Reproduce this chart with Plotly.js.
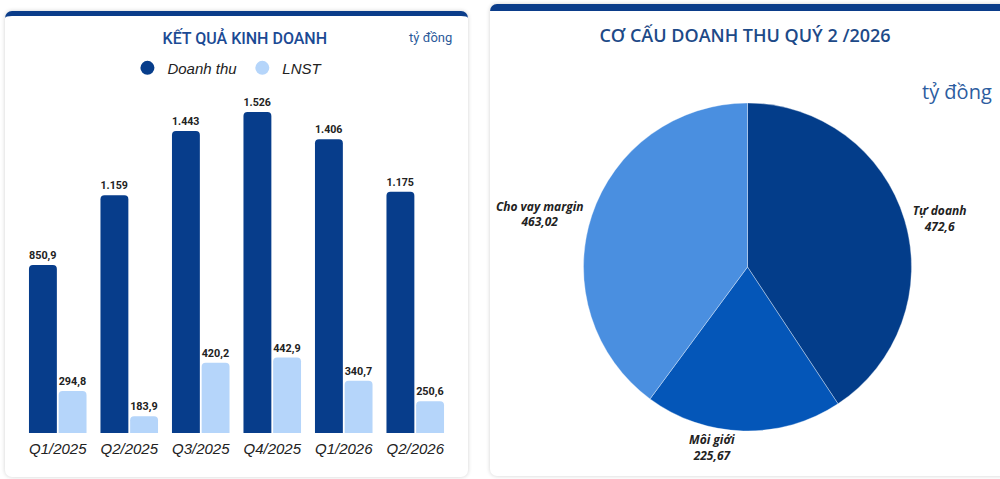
<!DOCTYPE html>
<html>
<head>
<meta charset="utf-8">
<script src="https://cdn.plot.ly/plotly-3.0.1.min.js"></script>
<style>
  html, body { margin:0; padding:0; background:#ffffff; width:1000px; height:479px; overflow:hidden; }
  .card { position:absolute; background:#ffffff; border-radius:7px; box-shadow:0 0 4px rgba(0,0,0,0.18); border-top:5px solid #0b3d8a; box-sizing:border-box; }
  #cardL { left:5px; top:11px; width:463px; height:466px; }
  #cardR { left:490px; top:4px; width:520px; height:472px; border-top-width:7px; }
  #barDiv { position:absolute; left:5px; top:16px; width:463px; height:461px; }
  #pieDiv { position:absolute; left:490px; top:11px; width:510px; height:466px; }
</style>
</head>
<body>
<div class="card" id="cardL"></div>
<div class="card" id="cardR"></div>
<div id="barDiv"></div>
<div id="pieDiv"></div>
<script>
// ---- data ----
const quarters = ["Q1/2025", "Q2/2025", "Q3/2025", "Q4/2025", "Q1/2026", "Q2/2026"];
const revenue = [850.9, 1159, 1443, 1526, 1406, 1175];
const profit = [294.8, 183.9, 420.2, 442.9, 340.7, 250.6];
const seriesNames = ["Doanh thu", "LNST"];

const pieLabels = ["Tự doanh", "Môi giới", "Cho vay margin"];
const pieValues = [472.6, 225.67, 463.02];

const titleBar = "KẾT QUẢ KINH DOANH";
const titlePie = "CƠ CẤU DOANH THU QUÝ 2 /2026";
const unitText = "tỷ đồng";

// ---- formatting (Vietnamese) ----
function fmt(v) {
  if (v >= 1000) {
    return Math.round(v).toString().replace(/\B(?=(\d{3})+(?!\d))/g, ".");
  }
  return v.toFixed(1).replace(".", ",");
}
function fmtPie(v) { return String(v).replace(".", ","); }

const darkBlue = "#073d8b";
const lightBlue = "#b5d5fa";
const labelFont = { family: "Roboto, 'Liberation Sans', sans-serif", size: 11.5, color: "#222222", weight: 700 };

// ---- bar chart ----
const barTraces = [
  {
    type: "bar", x: quarters, y: revenue, name: seriesNames[0], showlegend: false,
    marker: { color: darkBlue, cornerradius: 4 },
    text: revenue.map(fmt), textposition: "outside", textfont: labelFont,
    hoverinfo: "none"
  },
  {
    type: "bar", x: quarters, y: profit, name: seriesNames[1], showlegend: false,
    marker: { color: lightBlue, cornerradius: 4 },
    text: profit.map(fmt), textposition: "outside", textfont: labelFont,
    hoverinfo: "none"
  },
  {
    type: "scatter", mode: "markers", x: [quarters[0]], y: [null], name: seriesNames[0],
    marker: { color: darkBlue, size: 14, symbol: "circle" }, hoverinfo: "none"
  },
  {
    type: "scatter", mode: "markers", x: [quarters[0]], y: [null], name: seriesNames[1],
    marker: { color: lightBlue, size: 14, symbol: "circle" }, hoverinfo: "none"
  }
];

const barLayout = {
  width: 463, height: 461,
  margin: { l: 17, r: 17, t: 75, b: 44, pad: 0 },
  paper_bgcolor: "rgba(0,0,0,0)", plot_bgcolor: "rgba(0,0,0,0)",
  barmode: "group", bargap: 0.17, bargroupgap: 0.06,
  title: {
    text: titleBar, x: 0.518, xref: "container", xanchor: "center",
    y: 0.952, yref: "container", yanchor: "middle",
    font: { family: "Roboto, 'Liberation Sans', sans-serif", size: 16, color: "#1b4a94", weight: 500 }
  },
  xaxis: {
    type: "category", showgrid: false, zeroline: false, showline: false, ticks: "",
    ticklabelstandoff: 5,
    tickfont: { family: "'Liberation Sans', Arial, sans-serif", size: 15, color: "#222222", style: "italic" },
    fixedrange: true
  },
  yaxis: { range: [110, 1619], visible: false, showgrid: false, zeroline: false, fixedrange: true },
  legend: {
    orientation: "h", x: 0.48, xanchor: "center", y: 1.067, yanchor: "middle",
    font: { family: "'Liberation Sans', Arial, sans-serif", size: 15, color: "#222222", style: "italic" },
    itemclick: false, itemdoubleclick: false
  },
  annotations: [{
    text: unitText, xref: "paper", yref: "paper", x: 0.952, y: 1.155,
    xanchor: "center", yanchor: "middle", showarrow: false,
    font: { family: "Roboto, 'Liberation Sans', sans-serif", size: 13, color: "#2b5a9a" }
  }],
  showlegend: true
};

Plotly.newPlot("barDiv", barTraces, barLayout, { staticPlot: true, displayModeBar: false });

// ---- pie chart ----
const pieTrace = {
  type: "pie", labels: pieLabels, values: pieValues,
  text: pieValues.map(fmtPie),
  texttemplate: "%{label}<br>%{text}",
  textposition: "outside", sort: false, direction: "clockwise", rotation: 0,
  marker: { colors: ["#033d8a", "#0456b8", "#4a8fe0"], line: { color: "rgba(255,255,255,0.35)", width: 1 } },
  outsidetextfont: { family: "'Open Sans', 'Noto Sans', sans-serif", size: 12, color: "#222222", weight: 700, style: "italic" },
  domain: { x: [0.1833, 0.8265], y: [0.0987, 0.8026] },
  automargin: false, showlegend: false, hoverinfo: "none"
};

const pieLayout = {
  width: 510, height: 466,
  margin: { l: 0, r: 0, t: 0, b: 0 },
  paper_bgcolor: "rgba(0,0,0,0)",
  title: {
    text: titlePie, x: 0.5, xref: "container", xanchor: "center",
    y: 0.946, yref: "container", yanchor: "middle",
    font: { family: "'Open Sans', 'Noto Sans', sans-serif", size: 18, color: "#1d4a88", weight: 600 }
  },
  annotations: [{
    text: unitText, xref: "paper", yref: "paper", x: 0.9157, y: 0.8283,
    xanchor: "center", yanchor: "middle", showarrow: false,
    font: { family: "'Open Sans', 'Noto Sans', sans-serif", size: 20, color: "#2d5da0" }
  }]
};

Plotly.newPlot("pieDiv", [pieTrace], pieLayout, { staticPlot: true, displayModeBar: false });
</script>
</body>
</html>
